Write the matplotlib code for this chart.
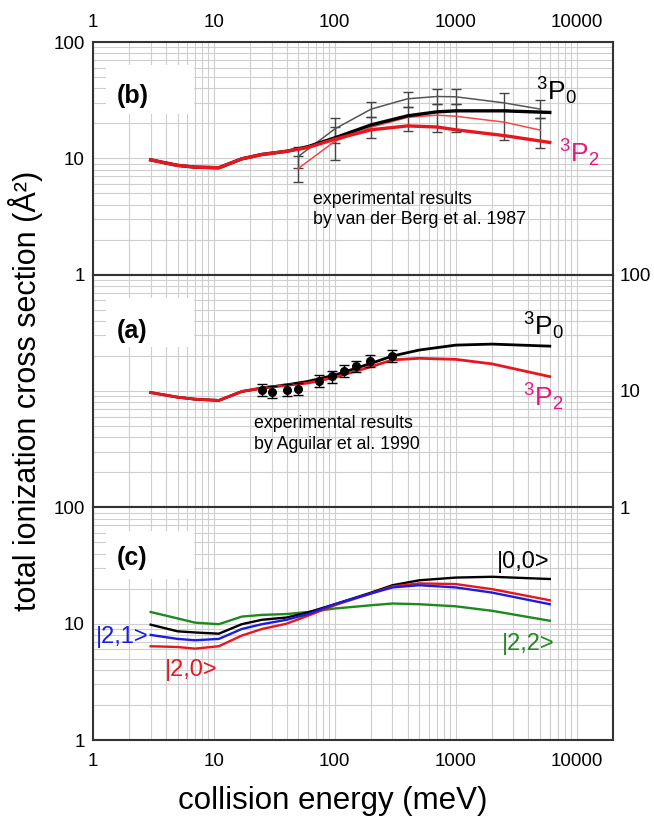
import matplotlib
matplotlib.use('Agg')
import matplotlib.pyplot as plt
from matplotlib.patches import Rectangle
from matplotlib.ticker import LogLocator, FixedLocator, FixedFormatter, NullFormatter

plt.rcParams['font.family'] = ['Liberation Sans', 'DejaVu Sans']
plt.rcParams['mathtext.fontset'] = 'custom'
plt.rcParams['mathtext.rm'] = 'Liberation Sans'
plt.rcParams['mathtext.it'] = 'Liberation Sans:italic'
plt.rcParams['mathtext.bf'] = 'Liberation Sans:bold'

# ---------------- data ----------------
# panel (b): theory
energy_b = [3, 5, 7, 11, 17, 25, 40, 60, 100, 200, 400, 700, 1000, 2500, 6000]
b_P0 = [9.7, 8.7, 8.4, 8.3, 9.9, 10.8, 11.5, 12.6, 15.0, 19.4, 23.2, 25.1, 25.6, 25.6, 24.8]
b_P2 = [9.7, 8.7, 8.4, 8.3, 9.9, 10.8, 11.5, 12.4, 14.6, 17.6, 19.0, 18.6, 17.6, 15.7, 13.7]

# panel (b): experiment, van der Berg et al. 1987
vdb_E = [50, 100, 200, 400, 700, 1000, 2500, 5000]
vdb_P0 = [10.4, 17.9, 26.5, 32.5, 34.0, 33.8, 30.0, 26.5]
vdb_P0_lo = [8.2, 13.6, 22.6, 27.6, 29.4, 29.4, 25.8, 22.2]
vdb_P0_hi = [12.5, 22.2, 30.8, 37.0, 39.5, 39.5, 36.3, 31.8]
vdb_P2 = [8.2, 14.0, 18.5, 22.5, 23.5, 23.0, 20.5, 17.5]
vdb_P2_lo = [6.3, 9.6, 14.9, 17.3, 17.0, 17.0, 14.4, 12.3]
vdb_P2_hi = [10.4, 18.5, 22.6, 27.6, 29.4, 29.4, 25.8, 22.2]

# panel (a): theory
energy_a = [3, 5, 7, 11, 17, 25, 40, 60, 100, 200, 300, 500, 1000, 2000, 6000]
a_P0 = [9.7, 8.85, 8.5, 8.3, 9.9, 10.6, 11.3, 12.1, 13.7, 17.3, 20.0, 22.5, 24.8, 25.3, 24.3]
a_P2 = [9.7, 8.85, 8.5, 8.3, 9.9, 10.6, 11.2, 11.7, 13.1, 16.2, 18.5, 19.1, 18.7, 17.1, 13.3]

# panel (a): experiment, Aguilar et al. 1990
ag_E = [25, 30, 40, 50, 74, 94, 119, 149, 197, 298]
ag_S = [10.2, 9.9, 10.2, 10.5, 12.2, 13.4, 14.9, 16.4, 18.2, 20.1]
ag_err = [1.2, 1.2, 1.2, 1.3, 1.4, 1.6, 1.7, 1.8, 2.0, 2.2]

# panel (c): theory for |j,m> states
energy_c = [3, 5, 7, 11, 17, 25, 40, 60, 100, 200, 300, 500, 1000, 2000, 6000]
c_00 = [9.8, 8.6, 8.4, 8.2, 9.9, 10.8, 11.3, 12.5, 14.7, 18.5, 21.4, 23.6, 24.9, 25.3, 24.2]
c_21 = [8.0, 7.4, 7.2, 7.4, 9.0, 9.9, 10.8, 12.1, 14.7, 18.2, 20.5, 21.4, 20.5, 18.5, 14.7]
c_20 = [6.4, 6.3, 6.1, 6.4, 7.9, 9.0, 10.0, 11.7, 14.4, 18.2, 20.9, 22.2, 21.9, 19.8, 15.9]
c_22 = [12.6, 11.1, 10.2, 9.9, 11.5, 11.9, 12.1, 12.6, 13.5, 14.4, 14.9, 14.7, 14.1, 12.9, 10.6]

x_ticks = [1, 10, 100, 1000, 10000]
x_ticklabels = ['1', '10', '100', '1000', '10000']
y_ticks = [1, 10, 100]
y_ticklabels = ['1', '10', '100']

RED = '#e8161e'
THINRED = '#f04848'
MAGENTA = '#e3177f'
BLUE = '#1c1ce0'
GREEN = '#1e8a1e'
GRID = '#cfcfcf'

fig = plt.figure(figsize=(6.54, 8.18), dpi=100)
L, W = 93 / 654, 520 / 654
H = 0.28443
ax_b = fig.add_axes([L, 0.66422, W, H])
ax_a = fig.add_axes([L, 0.37979, W, H])
ax_c = fig.add_axes([L, 0.09535, W, H])


def setup(ax):
    ax.set_xscale('log')
    ax.set_yscale('log')
    ax.set_xlim(1, 20000)
    ax.set_ylim(1, 100)
    ax.set_axisbelow(True)
    ax.xaxis.set_major_locator(FixedLocator(x_ticks))
    ax.xaxis.set_major_formatter(FixedFormatter(x_ticklabels))
    ax.xaxis.set_minor_locator(LogLocator(base=10, subs=range(2, 10), numticks=20))
    ax.xaxis.set_minor_formatter(NullFormatter())
    ax.yaxis.set_major_locator(FixedLocator(y_ticks))
    ax.yaxis.set_major_formatter(FixedFormatter(y_ticklabels))
    ax.yaxis.set_minor_locator(LogLocator(base=10, subs=range(2, 10), numticks=20))
    ax.yaxis.set_minor_formatter(NullFormatter())
    ax.grid(True, which='both', color=GRID, lw=0.8)
    ax.tick_params(which='both', length=0, labelsize=13.5)
    for s in ax.spines.values():
        s.set_linewidth(1.5)
        s.set_color('#333333')
    ax.add_patch(Rectangle((0.025, 0.69), 0.17, 0.21, transform=ax.transAxes,
                           facecolor='white', edgecolor='none', zorder=1))


for ax in (ax_b, ax_a, ax_c):
    setup(ax)

# top panel: labels on top / left
ax_b.tick_params(axis='x', labeltop=True, labelbottom=False, pad=8)
ax_b.tick_params(axis='y', labelleft=True, pad=6)
# middle: labels right only
ax_a.tick_params(axis='x', labelbottom=False)
ax_a.tick_params(axis='y', labelleft=False, labelright=True, pad=5)
# bottom
ax_c.tick_params(axis='x', labelbottom=True, pad=9)
ax_c.tick_params(axis='y', labelleft=True, pad=6)

# ---- panel (b)
ax_b.errorbar(vdb_E, vdb_P0,
              yerr=[[v - l for v, l in zip(vdb_P0, vdb_P0_lo)],
                    [h - v for v, h in zip(vdb_P0, vdb_P0_hi)]],
              fmt='none', ecolor='#444444', elinewidth=1.0, capsize=3.5, zorder=3)
ax_b.errorbar(vdb_E, vdb_P2,
              yerr=[[v - l for v, l in zip(vdb_P2, vdb_P2_lo)],
                    [h - v for v, h in zip(vdb_P2, vdb_P2_hi)]],
              fmt='none', ecolor='#444444', elinewidth=1.0, capsize=3.5, zorder=3)
ax_b.plot(vdb_E, vdb_P0, color='#555555', lw=1.1, zorder=4)
ax_b.plot(vdb_E, vdb_P2, color=THINRED, lw=1.1, zorder=4)
ax_b.plot(energy_b, b_P0, color='black', lw=2.4, zorder=5)
ax_b.plot(energy_b, b_P2, color=RED, lw=2.4, zorder=6)
ax_b.text(0.852, 0.75, r'$^{3}$P$_{0}$', transform=ax_b.transAxes, fontsize=19,
          color='black', va='baseline', ha='left')
ax_b.text(0.896, 0.483, r'$^{3}$P$_{2}$', transform=ax_b.transAxes, fontsize=19,
          color=MAGENTA, va='baseline', ha='left')
ax_b.text(0.423, 0.281, 'experimental results\nby van der Berg et al. 1987',
          transform=ax_b.transAxes, fontsize=12.8, va='center', ha='left',
          linespacing=1.25)
ax_b.text(0.046, 0.77, '(b)', transform=ax_b.transAxes, fontsize=18,
          fontweight='bold', va='center', ha='left', zorder=2)

# ---- panel (a)
ax_a.plot(energy_a, a_P0, color='black', lw=2.0, zorder=4)
ax_a.plot(energy_a, a_P2, color=RED, lw=2.0, zorder=5)
ax_a.errorbar(ag_E, ag_S, yerr=ag_err, fmt='o', color='black', ms=5.5,
              ecolor='black', elinewidth=1.0, capsize=3.5, zorder=6)
ax_a.text(0.827, 0.74, r'$^{3}$P$_{0}$', transform=ax_a.transAxes, fontsize=19,
          color='black', va='baseline', ha='left')
ax_a.text(0.827, 0.4325, r'$^{3}$P$_{2}$', transform=ax_a.transAxes, fontsize=19,
          color=MAGENTA, va='baseline', ha='left')
ax_a.text(0.31, 0.3155, 'experimental results\nby Aguilar et al. 1990',
          transform=ax_a.transAxes, fontsize=12.8, va='center', ha='left',
          linespacing=1.25)
ax_a.text(0.046, 0.757, '(a)', transform=ax_a.transAxes, fontsize=18,
          fontweight='bold', va='center', ha='left', zorder=2)

# ---- panel (c)
ax_c.plot(energy_c, c_22, color=GREEN, lw=1.7, zorder=3)
ax_c.plot(energy_c, c_00, color='black', lw=1.7, zorder=4)
ax_c.plot(energy_c, c_20, color=RED, lw=1.7, zorder=5)
ax_c.plot(energy_c, c_21, color=BLUE, lw=1.7, zorder=6)
ax_c.text(0.777, 0.763, '|0,0>', transform=ax_c.transAxes, fontsize=17,
          color='black', va='center', ha='left')
ax_c.text(0.006, 0.444, '|2,1>', transform=ax_c.transAxes, fontsize=17,
          color=BLUE, va='center', ha='left')
ax_c.text(0.138, 0.302, '|2,0>', transform=ax_c.transAxes, fontsize=17,
          color=RED, va='center', ha='left')
ax_c.text(0.787, 0.414, '|2,2>', transform=ax_c.transAxes, fontsize=17,
          color=GREEN, va='center', ha='left')
ax_c.text(0.046, 0.784, '(c)', transform=ax_c.transAxes, fontsize=18,
          fontweight='bold', va='center', ha='left', zorder=2)

fig.text(332.5 / 654, 1 - 801 / 818, 'collision energy (meV)', fontsize=22.5,
         ha='center', va='center')
fig.text(26 / 654, 1 - 391 / 818, 'total ionization cross section (Å²)',
         fontsize=22, rotation=90, ha='center', va='center')

fig.savefig('out.png', dpi=100)
